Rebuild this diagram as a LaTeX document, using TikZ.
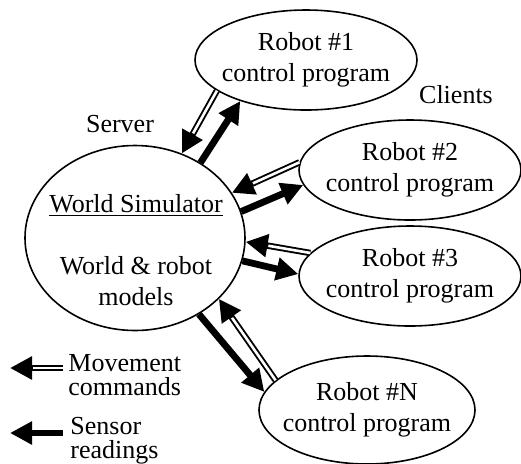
\documentclass[tikz,border=0pt]{standalone}
\usepackage{fontspec}
\setmainfont{Liberation Serif}
\usetikzlibrary{shapes.geometric,arrows.meta}

\begin{document}
\begin{tikzpicture}[x=0.5pt,y=-0.5pt,
  txt/.style={font=\fontsize{13}{15.5}\selectfont,align=center,inner sep=0pt},
  keytxt/.style={font=\fontsize{13}{12}\selectfont,align=left,inner sep=0pt,anchor=base west},
  prog/.style={ellipse,draw,line width=0.8pt,minimum width=111pt,minimum height=50pt,inner sep=0pt},
  sensor/.style={line width=3.4pt,-{Triangle[length=11pt,width=11pt]}},
  movecmd/.style={line width=3.2pt,-{Triangle[length=11pt,width=11pt]},
    postaction={draw=white,line width=1.3pt,shorten >=11.5pt,-}}]
\useasboundingbox (0,0) rectangle (521,463);
% server
\node[ellipse,draw,line width=0.8pt,minimum width=110pt,minimum height=92.5pt] (world) at (135,238) {};
\node[txt,anchor=base] (wtitle) at (136,212) {\underline{World Simulator}};
\node[txt] (wmodels) at (136,281) {World \& robot\\models};
\node[txt,anchor=base] (server) at (120,132) {Server};
% clients
\node[prog,label={[txt]center:Robot \#1\\control program}] (r1) at (306,60) {};
\node[prog,label={[txt]center:Robot \#2\\control program}] (r2) at (410,170) {};
\node[prog,label={[txt]center:Robot \#3\\control program}] (r3) at (410,276) {};
\node[prog,minimum width=108pt,minimum height=54pt,label={[txt]center:Robot \#N\\control program}] (rN) at (367,410) {};
\node[txt,anchor=base] (clients) at (456,103) {Clients};
% commands and readings
\draw[movecmd] (r1.199) -- (world.61);
\draw[sensor] (world.49) -- (r1.212.5);
\draw[movecmd] (r2.176) -- (world.25);
\draw[sensor] (world.14) -- (r2.188);
\draw[movecmd] (r3.167) -- (world.358);
\draw[sensor] (world.348.5) -- (r3.179.5);
\draw[movecmd] (rN.162) -- (world.324);
\draw[sensor] (world.310.7) -- (rN.170.7);
% key
\coordinate (movetail) at (63,368);
\coordinate (movetip) at (10,368);
\coordinate (sensetail) at (63,433);
\coordinate (sensetip) at (10,433);
\draw[movecmd] (movetail) -- (movetip);
\draw[sensor] (sensetail) -- (sensetip);
\node[keytxt] (movelbl) at (68,395) {Movement\\commands};
\node[keytxt] (senselbl) at (70,458) {Sensor\\readings};
\end{tikzpicture}
\end{document}
